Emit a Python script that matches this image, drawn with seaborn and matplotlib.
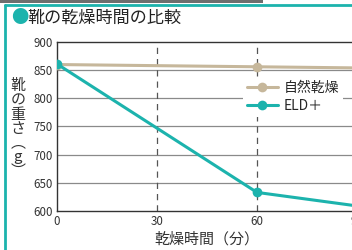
import matplotlib
matplotlib.use("Agg")
import matplotlib.pyplot as plt
import seaborn as sns
import pandas as pd
from matplotlib.patches import Rectangle
from matplotlib.lines import Line2D

minutes = [0, 60, 90]
natural = [860, 856, 854]
eld = [861, 633, 609]
series_names = ["自然乾燥", "ELD＋"]
xticks = [0, 30, 60, 90]
yticks = [600, 650, 700, 750, 800, 850, 900]

df = pd.DataFrame({
    "分": minutes * 2,
    "重さ": natural + eld,
    "系列": [series_names[0]] * 3 + [series_names[1]] * 3,
})

sns.set_style("white")
plt.rcParams['font.family'] = ['Noto Sans CJK JP', 'DejaVu Sans']

TEAL = "#1cb3ad"
TAN = "#c6b79b"

fig = plt.figure(figsize=(3.52, 2.5), dpi=100)
ax = fig.add_axes([57/352, 1-211/250, 300/352, 169/250])

for yv in yticks[1:-1]:
    ax.axhline(yv, color="#8a8a8a", lw=0.9, zorder=1)
for xv in [30, 60]:
    ax.axvline(xv, color="#555555", lw=0.9, ls=(0, (5, 4)), zorder=1)

sns.lineplot(data=df, x="分", y="重さ", hue="系列", palette=[TAN, TEAL],
             marker="o", markersize=7, markeredgewidth=0, lw=2.2, ax=ax,
             legend=False, zorder=3)

ax.set_xlim(0, 90)
ax.set_ylim(600, 900)
ax.set_xticks(xticks)
ax.set_yticks(yticks)
ax.tick_params(axis="both", labelsize=8.3, colors="#333333", length=0, pad=3)
for s in ax.spines.values():
    s.set_color("#333333")
    s.set_linewidth(1.0)
ax.set_xlabel("乾燥時間（分）", fontsize=10.8, color="#333333", labelpad=3)
ax.set_ylabel("")

handles = [Line2D([], [], color=TAN, lw=2.2, marker="o", markersize=7, markeredgewidth=0),
           Line2D([], [], color=TEAL, lw=2.2, marker="o", markersize=7, markeredgewidth=0)]
leg = fig.legend(handles, series_names, loc="upper left",
                 bbox_to_anchor=(243/352, 1-77/250), frameon=True,
                 fontsize=10, handlelength=2.2, handletextpad=0.4,
                 labelspacing=0.25, borderpad=0.3, borderaxespad=0)
leg.get_frame().set_facecolor("white")
leg.get_frame().set_edgecolor("none")
leg.get_frame().set_alpha(1)

# vertical y label
fig.text(18/352, 1-129/250, "靴\nの\n重\nさ\n︵\ng\n︶", fontsize=10.8,
         color="#333333", ha="center", va="center", linespacing=1.02)

# title
fig.text(11/352, 1-18/250, "●", fontsize=12.5, color=TEAL, ha="left", va="center")
fig.text(27/352, 1-18/250, "靴の乾燥時間の比較", fontsize=12.3, color="#222222",
         ha="left", va="center")

# frame decorations
fig.add_artist(Rectangle((0, 1-3/250), 263/352, 3/250, transform=fig.transFigure,
                         color="#6e6e6e", lw=0))
fig.add_artist(Line2D([5/352, 1], [1-4.5/250, 1-4.5/250], transform=fig.transFigure,
                      color=TEAL, lw=2))
fig.add_artist(Line2D([5/352, 5/352], [0, 1-4.5/250], transform=fig.transFigure,
                      color=TEAL, lw=2))

fig.savefig("out.png", dpi=100)
